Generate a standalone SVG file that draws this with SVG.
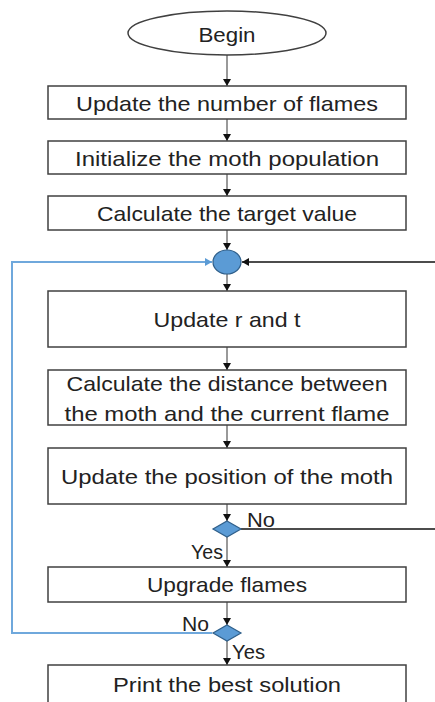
<svg xmlns="http://www.w3.org/2000/svg" width="435" height="702" viewBox="0 0 435 702">
<style>
.box{fill:#fff;stroke:#404040;stroke-width:1.5}
.t{font-family:"Liberation Sans",Arial,sans-serif;font-size:21px;fill:#222;text-anchor:middle}
.l{font-family:"Liberation Sans",Arial,sans-serif;font-size:20px;fill:#222}
.c{stroke:#555;stroke-width:1.2;fill:none}
.dec{fill:#5b9bd5;stroke:#2f5f8a;stroke-width:1.2}
</style>
<defs>
<marker id="a" markerWidth="8" markerHeight="8" refX="7" refY="4" orient="auto" markerUnits="userSpaceOnUse">
<path d="M0,0 L7,4 L0,8 z" fill="#111"/>
</marker>
<marker id="ab" markerWidth="8" markerHeight="8" refX="7" refY="4" orient="auto" markerUnits="userSpaceOnUse">
<path d="M0,0 L7,4 L0,8 z" fill="#5b9bd5"/>
</marker>
</defs>
<rect width="435" height="702" fill="#fff"/>
<g id="connectors">
<line class="c" x1="227" y1="55" x2="227" y2="86" marker-end="url(#a)"/>
<line class="c" x1="227" y1="119" x2="227" y2="141" marker-end="url(#a)"/>
<line class="c" x1="227" y1="174" x2="227" y2="196" marker-end="url(#a)"/>
<line class="c" x1="227" y1="230" x2="227" y2="250" marker-end="url(#a)"/>
<line class="c" x1="227" y1="274" x2="227" y2="291" marker-end="url(#a)"/>
<line class="c" x1="227" y1="347" x2="227" y2="370" marker-end="url(#a)"/>
<line class="c" x1="227" y1="425" x2="227" y2="448" marker-end="url(#a)"/>
<line class="c" x1="227" y1="504" x2="227" y2="521" marker-end="url(#a)"/>
<line class="c" x1="227" y1="537" x2="227" y2="567" marker-end="url(#a)"/>
<line class="c" x1="227" y1="602" x2="227" y2="625" marker-end="url(#a)"/>
<line class="c" x1="227" y1="641" x2="227" y2="665" marker-end="url(#a)"/>
<polyline points="241,529 435,529" fill="none" stroke="#111" stroke-width="1.5"/>
<line x1="435" y1="262" x2="242" y2="262" stroke="#111" stroke-width="1.5" marker-end="url(#a)"/>
<polyline points="212,633 12,633 12,262 212,262" fill="none" stroke="#6fa8dc" stroke-width="2" marker-end="url(#ab)"/>
</g>
<g id="begin">
<ellipse cx="227" cy="33" rx="99" ry="22" class="box"/>
<text class="t" x="227" y="42" textLength="57" lengthAdjust="spacingAndGlyphs">Begin</text>
</g>
<g id="n1">
<rect class="box" x="48" y="86" width="358" height="33"/>
<text class="t" x="227" y="111" textLength="302" lengthAdjust="spacingAndGlyphs">Update the number of flames</text>
</g>
<g id="n2">
<rect class="box" x="48" y="141" width="358" height="33"/>
<text class="t" x="227" y="166" textLength="304" lengthAdjust="spacingAndGlyphs">Initialize the moth population</text>
</g>
<g id="n3">
<rect class="box" x="48" y="196" width="358" height="34"/>
<text class="t" x="227" y="221" textLength="260" lengthAdjust="spacingAndGlyphs">Calculate the target value</text>
</g>
<g id="merge">
<ellipse cx="227" cy="262" rx="14" ry="12" class="dec"/>
</g>
<g id="n4">
<rect class="box" x="48" y="291" width="358" height="56"/>
<text class="t" x="227" y="327" textLength="147" lengthAdjust="spacingAndGlyphs">Update r and t</text>
</g>
<g id="n5">
<rect class="box" x="48" y="370" width="358" height="55"/>
<text class="t" x="227" y="391" textLength="321" lengthAdjust="spacingAndGlyphs">Calculate the distance between</text>
<text class="t" x="227" y="421" textLength="325" lengthAdjust="spacingAndGlyphs">the moth and the current flame</text>
</g>
<g id="n6">
<rect class="box" x="48" y="448" width="358" height="56"/>
<text class="t" x="227" y="484" textLength="332" lengthAdjust="spacingAndGlyphs">Update the position of the moth</text>
</g>
<g id="d1">
<polygon class="dec" points="227,521 241,529 227,537 213,529"/>
<text class="l" x="247" y="527" textLength="28" lengthAdjust="spacingAndGlyphs">No</text>
<text class="l" x="191" y="559" textLength="32" lengthAdjust="spacingAndGlyphs">Yes</text>
</g>
<g id="n7">
<rect class="box" x="48" y="567" width="358" height="35"/>
<text class="t" x="227" y="592" textLength="160" lengthAdjust="spacingAndGlyphs">Upgrade flames</text>
</g>
<g id="d2">
<polygon class="dec" points="227,625 241,633 227,641 213,633"/>
<text class="l" x="182" y="631" textLength="27" lengthAdjust="spacingAndGlyphs">No</text>
<text class="l" x="232" y="659" textLength="33" lengthAdjust="spacingAndGlyphs">Yes</text>
</g>
<g id="n8">
<rect class="box" x="48" y="665" width="358" height="45"/>
<text class="t" x="227" y="692" textLength="228" lengthAdjust="spacingAndGlyphs">Print the best solution</text>
</g>
</svg>
